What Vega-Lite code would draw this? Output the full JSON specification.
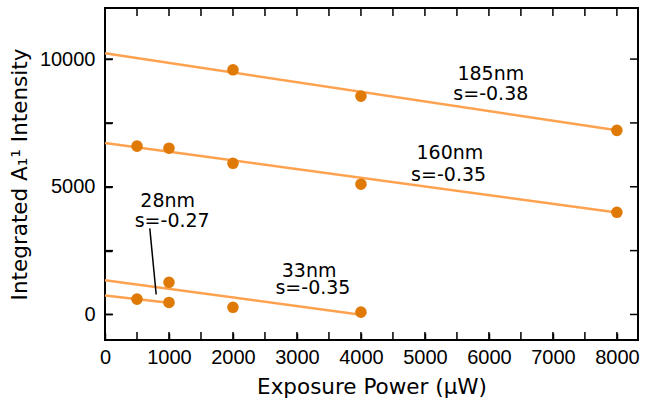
{
  "$schema": "https://vega.github.io/schema/vega-lite/v6.json",
  "autosize": "none",
  "width": 533,
  "height": 332,
  "padding": {"left": 105, "top": 8, "right": 15, "bottom": 62},
  "background": "white",
  "config": {
    "view": {"stroke": "black", "strokeWidth": 2},
    "axis": {
      "grid": false,
      "domain": false,
      "labelFlush": false,
      "labelFont": "Liberation Sans",
      "labelFontSize": 20,
      "labelColor": "black",
      "titleFont": "DejaVu Sans",
      "titleFontSize": 21.5,
      "titleFontWeight": "normal",
      "titleColor": "black"
    }
  },
  "datasets": {
    "fits": [
      {"series": "185nm", "power": 0, "intensity": 10230},
      {"series": "185nm", "power": 8000, "intensity": 7210},
      {"series": "160nm", "power": 0, "intensity": 6710},
      {"series": "160nm", "power": 8000, "intensity": 3990},
      {"series": "33nm", "power": 0, "intensity": 1340},
      {"series": "33nm", "power": 4000, "intensity": -10},
      {"series": "28nm", "power": 0, "intensity": 740},
      {"series": "28nm", "power": 1000, "intensity": 460}
    ],
    "points": [
      {"series": "185nm", "power": 2000, "intensity": 9580},
      {"series": "185nm", "power": 4000, "intensity": 8550},
      {"series": "185nm", "power": 8000, "intensity": 7210},
      {"series": "160nm", "power": 500, "intensity": 6590},
      {"series": "160nm", "power": 1000, "intensity": 6510},
      {"series": "160nm", "power": 2000, "intensity": 5920},
      {"series": "160nm", "power": 4000, "intensity": 5100},
      {"series": "160nm", "power": 8000, "intensity": 4000},
      {"series": "33nm", "power": 1000, "intensity": 1260},
      {"series": "33nm", "power": 2000, "intensity": 280},
      {"series": "33nm", "power": 4000, "intensity": 90},
      {"series": "28nm", "power": 500, "intensity": 600},
      {"series": "28nm", "power": 1000, "intensity": 470}
    ],
    "leader": [
      {"power": 700, "intensity": 3370, "power2": 800, "intensity2": 780}
    ],
    "xticks": [
      {"power": 0}, {"power": 500}, {"power": 1000}, {"power": 1500}, {"power": 2000}, {"power": 2500}, {"power": 3000}, {"power": 3500}, {"power": 4000},
      {"power": 4500}, {"power": 5000}, {"power": 5500}, {"power": 6000}, {"power": 6500}, {"power": 7000}, {"power": 7500}, {"power": 8000}
    ],
    "yticks": [
      {"intensity": 0}, {"intensity": 2500}, {"intensity": 5000}, {"intensity": 7500}, {"intensity": 10000}
    ],
    "labels": [
      {"text": "185nm", "power": 6030, "intensity": 9410},
      {"text": "s=-0.38", "power": 6030, "intensity": 8630},
      {"text": "160nm", "power": 5390, "intensity": 6330},
      {"text": "s=-0.35", "power": 5370, "intensity": 5480},
      {"text": "28nm", "power": 980, "intensity": 4430},
      {"text": "s=-0.27", "power": 1050, "intensity": 3670},
      {"text": "33nm", "power": 3190, "intensity": 1710},
      {"text": "s=-0.35", "power": 3250, "intensity": 1030}
    ]
  },
  "layer": [
    {
      "data": {"name": "fits"},
      "mark": {"type": "line", "color": "#FFA24F", "strokeWidth": 2.5},
      "encoding": {
        "x": {
          "field": "power", "type": "quantitative",
          "scale": {"domain": [0, 8330], "nice": false, "zero": false},
          "axis": {
            "orient": "bottom",
            "title": "Exposure Power (µW)",
            "values": [0, 500, 1000, 1500, 2000, 2500, 3000, 3500, 4000, 4500, 5000, 5500, 6000, 6500, 7000, 7500, 8000],
            "labelExpr": "datum.value % 1000 == 0 ? format(datum.value, 'd') : ''",
            "ticks": true, "tickSize": 7, "tickColor": "#000000", "tickOpacity": 1, "tickWidth": 1.5,
            "offset": -7, "zindex": 1,
            "labelPadding": 7,
            "titlePadding": 9
          }
        },
        "y": {
          "field": "intensity", "type": "quantitative",
          "scale": {"domain": [-1000, 12000], "nice": false, "zero": false},
          "axis": {
            "orient": "left",
            "title": "Integrated A₁¹ Intensity",
            "values": [0, 2500, 5000, 7500, 10000],
            "labelExpr": "datum.value % 5000 == 0 ? format(datum.value, 'd') : ''",
            "ticks": true, "tickSize": 7, "tickColor": "#000000", "tickOpacity": 1, "tickWidth": 1.5,
            "offset": -7, "zindex": 1,
            "labelPadding": 10,
            "titlePadding": 8
          }
        },
        "detail": {"field": "series"}
      }
    },
    {
      "data": {"name": "xticks"},
      "mark": {"type": "tick", "orient": "vertical", "color": "black", "size": 16, "thickness": 1.5, "opacity": 1, "clip": true},
      "encoding": {
        "x": {"field": "power", "type": "quantitative"},
        "y": {"datum": -1000, "type": "quantitative"}
      }
    },
    {
      "data": {"name": "xticks"},
      "mark": {"type": "tick", "orient": "vertical", "color": "black", "size": 16, "thickness": 1.5, "opacity": 1, "clip": true},
      "encoding": {
        "x": {"field": "power", "type": "quantitative"},
        "y": {"datum": 12000, "type": "quantitative"}
      }
    },
    {
      "data": {"name": "yticks"},
      "mark": {"type": "tick", "orient": "horizontal", "color": "black", "size": 16, "thickness": 1.5, "opacity": 1, "clip": true},
      "encoding": {
        "y": {"field": "intensity", "type": "quantitative"},
        "x": {"datum": 0, "type": "quantitative"}
      }
    },
    {
      "data": {"name": "yticks"},
      "mark": {"type": "tick", "orient": "horizontal", "color": "black", "size": 16, "thickness": 1.5, "opacity": 1, "clip": true},
      "encoding": {
        "y": {"field": "intensity", "type": "quantitative"},
        "x": {"datum": 8330, "type": "quantitative"}
      }
    },
    {
      "data": {"name": "points"},
      "mark": {"type": "circle", "color": "#DF7A06", "opacity": 1, "size": 135},
      "encoding": {
        "x": {"field": "power", "type": "quantitative"},
        "y": {"field": "intensity", "type": "quantitative"}
      }
    },
    {
      "data": {"name": "leader"},
      "mark": {"type": "rule", "color": "black", "strokeWidth": 1.5},
      "encoding": {
        "x": {"field": "power", "type": "quantitative"},
        "y": {"field": "intensity", "type": "quantitative"},
        "x2": {"field": "power2"},
        "y2": {"field": "intensity2"}
      }
    },
    {
      "data": {"name": "labels"},
      "mark": {"type": "text", "font": "DejaVu Sans", "fontSize": 19, "color": "black", "align": "center", "baseline": "middle"},
      "encoding": {
        "x": {"field": "power", "type": "quantitative"},
        "y": {"field": "intensity", "type": "quantitative"},
        "text": {"field": "text"}
      }
    }
  ]
}
